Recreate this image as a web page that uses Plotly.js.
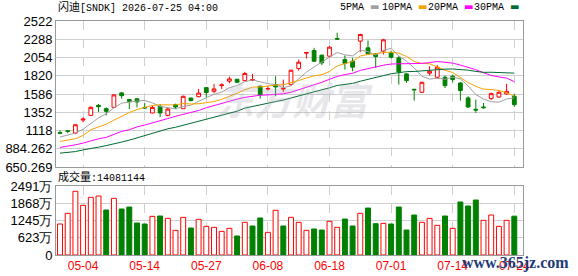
<!DOCTYPE html>
<html>
<head>
<meta charset="utf-8">
<script src="https://cdn.plot.ly/plotly-3.0.1.min.js"></script>
<style>html,body{margin:0;padding:0;background:#fff;}#chart{width:578px;height:276px;}</style>
</head>
<body>
<div id="chart"></div>
<script>
const dates = ['04-29','04-30','05-01','05-04','05-05','05-06','05-07','05-08','05-11','05-12',
  '05-13','05-14','05-15','05-18','05-19','05-20','05-21','05-22','05-26','05-27',
  '05-28','05-29','06-01','06-02','06-03','06-04','06-05','06-08','06-09','06-10',
  '06-11','06-12','06-15','06-16','06-17','06-18','06-22','06-23','06-24','06-25',
  '06-26','06-29','06-30','07-01','07-02','07-06','07-07','07-08','07-09','07-10',
  '07-13','07-14','07-15','07-16','07-17','07-20','07-21','07-22','07-23','07-24'];

const openP = [1092,1115,1085,1252,1312,1441,1398,1415,1600,1515,
  1525,1415,1343,1428,1312,1452,1398,1535,1552,1668,
  1621,1694,1750,1775,1758,1766,1686,1650,1707,1650,
  1707,1913,2110,2144,2084,2071,2298,2028,2007,2264,
  2178,2101,2136,2114,2050,1844,1647,1608,1853,1801,
  1801,1814,1728,1536,1390,1420,1527,1548,1587,1557];
const highP = [1120,1117,1196,1287,1428,1458,1415,1580,1613,1520,
  1531,1471,1437,1458,1407,1462,1566,1536,1651,1677,
  1715,1724,1810,1780,1870,1844,1694,1690,1814,1771,
  1900,2028,2127,2178,2093,2200,2372,2080,2050,2359,
  2273,2110,2294,2144,2071,1857,1651,1741,1943,1956,
  1823,1836,1737,1557,1514,1471,1604,1634,1716,1587];
const lowP = [1076,1085,1072,1222,1308,1355,1312,1410,1527,1394,
  1415,1394,1338,1291,1300,1395,1398,1493,1544,1544,
  1595,1651,1724,1724,1758,1750,1527,1630,1557,1612,
  1698,1887,2041,1998,1956,2058,2281,1900,1878,2123,
  2084,1921,2093,2041,1707,1728,1501,1604,1823,1784,
  1664,1737,1501,1407,1343,1398,1510,1536,1578,1420];
const closeP = [1083,1110,1192,1265,1415,1424,1364,1575,1565,1490,
  1484,1407,1415,1343,1394,1420,1557,1501,1598,1605,
  1651,1702,1780,1737,1848,1770,1578,1655,1677,1656,
  1891,1994,2118,2007,1986,2187,2290,1977,1930,2350,
  2101,2067,2281,2058,1870,1758,1640,1737,1878,1930,
  1694,1771,1630,1420,1381,1411,1591,1608,1621,1450];
const prevClose = 1025;

// volume in 万 (10,000 shares)
const volume = [1124,1512,2310,1802,2092,2139,1632,2055,1668,1740,
  1160,1124,1402,1414,1329,894,1366,979,1293,1039,
  1003,858,967,689,1184,1052,1342,822,1620,1052,
  1366,1184,894,943,906,1221,1003,1305,1052,1512,
  1704,1136,1148,1124,1740,906,1450,1184,1329,1076,
  1414,967,1922,1777,1994,1257,1450,1039,1257,1408.1144];

const ma5 = [1035,1060,1085,1135,1213,1281,1332,1409,1469,1484,
  1496,1504,1472,1428,1409,1396,1426,1443,1494,1536,
  1582,1611,1667,1695,1744,1767,1743,1718,1706,1667,
  1691,1775,1867,1933,1999,2058,2118,2089,2074,2147,
  2130,2085,2146,2171,2075,2007,1921,1813,1777,1789,
  1776,1802,1781,1689,1579,1523,1487,1482,1522,1536];
const ma10 = [978,991,1013,1055,1128,1165,1198,1252,1305,1348,
  1388,1418,1440,1448,1446,1446,1465,1458,1461,1472,
  1489,1519,1555,1595,1640,1675,1677,1692,1700,1705,
  1729,1759,1792,1819,1833,1875,1946,1978,2004,2073,
  2094,2101,2118,2123,2111,2068,2003,1979,1974,1932,
  1891,1862,1797,1733,1684,1649,1644,1631,1606,1558];
const ma20 = [901,914,935,957,987,1012,1030,1064,1107,1128,
  1165,1188,1213,1238,1272,1300,1322,1345,1375,1410,
  1439,1468,1498,1521,1543,1560,1571,1575,1581,1589,
  1609,1639,1674,1707,1737,1775,1812,1835,1852,1889,
  1912,1930,1955,1971,1972,1972,1975,1979,1989,2003,
  1993,1982,1957,1928,1898,1859,1824,1805,1790,1745];
const ma30 = [828,838,848,870,885,905,925,945,970,995,
  1025,1055,1085,1110,1140,1160,1185,1210,1235,1260,
  1285,1309,1336,1366,1405,1428,1447,1467,1489,1509,
  1536,1565,1596,1621,1640,1665,1696,1709,1722,1750,
  1771,1793,1822,1846,1861,1873,1875,1883,1893,1903,
  1905,1907,1902,1892,1876,1864,1865,1863,1861,1854];

const xTicks = ['05-04','05-14','05-27','06-08','06-18','07-01','07-14','07-24'];
const priceTicks = [650.269, 884.262, 1118, 1352, 1586, 1820, 2054, 2288, 2522];
const priceTickText = ['650.269','884.262','1118','1352','1586','1820','2054','2288','2522'];
const volTicks = [0, 623, 1245, 1868, 2491];
const volTickText = ['0','623万','1245万','1868万','2491万'];

const stockName = '闪迪[SNDK]';
const stamp = '2026-07-25 04:00';
const maNames = ['5PMA','10PMA','20PMA','30PMA'];

const RED = '#ff0000', GREEN = '#008000';
const maColors = ['#a0a0a0','#f5a300','#ff00ff','#006b33'];

const volUp = closeP.map((c, i) => c >= (i === 0 ? prevClose : closeP[i - 1]));

const traces = [];
traces.push({
  type: 'candlestick', x: dates, open: openP, high: highP, low: lowP, close: closeP,
  xaxis: 'x2', yaxis: 'y',
  increasing: {line: {color: RED, width: 1}, fillcolor: '#ffffff'},
  decreasing: {line: {color: GREEN, width: 1}, fillcolor: GREEN},
  whiskerwidth: 0, showlegend: false, hoverinfo: 'skip'
});
[ma5, ma10, ma20, ma30].forEach((m, k) => {
  traces.push({type: 'scatter', mode: 'lines', x: dates, y: m, xaxis: 'x2', yaxis: 'y',
    line: {color: maColors[k], width: 1}, showlegend: false, hoverinfo: 'skip'});
});
traces.push({
  type: 'bar', x: dates, y: volume, xaxis: 'x', yaxis: 'y2',
  marker: {color: volUp.map(u => u ? '#ffffff' : GREEN),
           line: {color: volUp.map(u => u ? RED : GREEN), width: 1}},
  showlegend: false, hoverinfo: 'skip'
});

const tickFont = {family: 'Liberation Sans, Arial, sans-serif', size: 13, color: '#000'};
const monoFam = 'Liberation Mono, Noto Sans CJK SC, monospace';

const gridX = {showgrid: true, gridcolor: '#cfcfcf', griddash: 'dash', gridwidth: 1,
  showline: true, linecolor: '#9a9a9a', linewidth: 1, mirror: true, zeroline: false,
  type: 'category', range: [-0.52, 60.13], tickmode: 'array', tickvals: xTicks, ticks: '',
  fixedrange: true};

const annotations = [
  {xref: 'paper', yref: 'paper', x: 0.0, y: 1.058, xanchor: 'left', yanchor: 'middle', showarrow: false,
   text: '<span style="font-size:11px">' + stockName.slice(0, 2) + '</span>' + stockName.slice(2) + ' ' + stamp,
   font: {family: monoFam, size: 10, color: '#000'}},
  {xref: 'paper', yref: 'paper', x: 0.0, y: 0.333, xanchor: 'left', yanchor: 'middle', showarrow: false,
   text: '<span style="font-size:11px">成交量</span>:' + Math.round(volume[volume.length - 1] * 10000),
   font: {family: monoFam, size: 10, color: '#000'}},
  {xref: 'paper', yref: 'paper', x: 0.51, y: 0.67, xanchor: 'center', yanchor: 'middle', showarrow: false,
   text: '<i><b>东方财富</b></i>', font: {family: 'Noto Sans CJK SC', size: 38, color: 'rgba(170,170,185,0.28)'}},
  {xref: 'paper', yref: 'paper', x: 0.985, y: -0.036, xanchor: 'center', yanchor: 'middle', showarrow: false,
   text: '<b>www.365jz.com</b>', font: {family: 'Liberation Serif, serif', size: 16, color: '#1d3c78'}}
];
const legendX = [0.604, 0.694, 0.792, 0.891];
maNames.forEach((n, k) => {
  annotations.push({xref: 'paper', yref: 'paper', x: legendX[k], y: 1.058, xanchor: 'left', yanchor: 'middle',
    showarrow: false, text: n + ' <span style="color:' + maColors[k] + ';font-family:DejaVu Sans">▬</span>',
    font: {family: monoFam, size: 10, color: '#000'}});
});

const layout = {
  width: 578, height: 276,
  margin: {l: 56, r: 55, t: 21, b: 21, pad: 0},
  paper_bgcolor: '#ffffff', plot_bgcolor: '#ffffff',
  showlegend: false,
  bargap: 0.36,
  xaxis: Object.assign({}, gridX, {anchor: 'y2', domain: [0, 1], showticklabels: true,
    tickfont: {family: 'Liberation Sans, Arial, sans-serif', size: 12, color: '#ff0000'}, rangeslider: {visible: false}}),
  xaxis2: Object.assign({}, gridX, {anchor: 'y', domain: [0, 1], matches: 'x', showticklabels: false,
    rangeslider: {visible: false}}),
  yaxis: {domain: [0.376, 1], range: [650.269, 2522.2], tickmode: 'array', tickvals: priceTicks,
    ticktext: priceTickText, tickfont: tickFont, showgrid: true, gridcolor: '#cfcfcf', gridwidth: 1,
    showline: true, linecolor: '#9a9a9a', mirror: true, zeroline: false, ticks: '', fixedrange: true},
  yaxis2: {domain: [0, 0.2936], range: [0, 2491.5], tickmode: 'array', tickvals: volTicks,
    ticktext: volTickText, tickfont: tickFont, showgrid: true, gridcolor: '#cfcfcf', gridwidth: 1,
    showline: true, linecolor: '#9a9a9a', mirror: true, zeroline: false, ticks: '', fixedrange: true},
  annotations: annotations
};

Plotly.newPlot('chart', traces, layout, {staticPlot: true, displayModeBar: false});
</script>
</body>
</html>
